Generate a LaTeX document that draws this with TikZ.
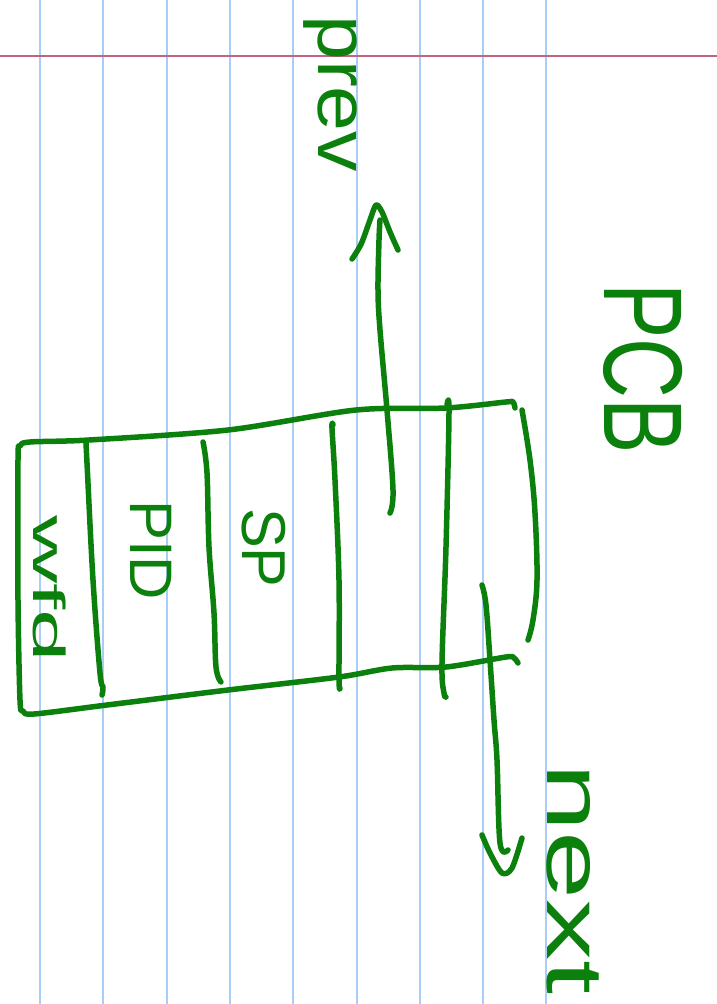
\documentclass[tikz,border=0pt]{standalone}
\usepackage{fontspec}
\usepackage{graphicx}
\newfontfamily\handfont{Liberation Sans}
\definecolor{ink}{RGB}{12,128,12}
\definecolor{ruleblue}{RGB}{168,206,248}
\definecolor{marginpink}{RGB}{196,98,128}
\tikzset{
  pen/.style={draw=ink,line width=5.5pt,line cap=round,line join=round},
  ruleline/.style={draw=ruleblue,line width=2pt},
  marginline/.style={draw=marginpink,line width=2pt},
  handlabel/.style={text=ink,inner sep=0pt,rotate=-90,anchor=base west}
}
\begin{document}
\begin{tikzpicture}[x=1pt,y=-1pt]
\fill[white] (0,0) rectangle (717,1004);
\useasboundingbox (0,0) rectangle (717,1004);
% ruled paper
\foreach \x in {40,103.3,...,550} \draw[ruleline] (\x,0) -- (\x,1004);
\draw[marginline] (0,55.5) -- (717,55.5);

% box outline: top, left and bottom edges
\draw[pen] plot[smooth,tension=0.5] coordinates {(515,408) (513,402) (506,402) (446,408) (356,410) (228,430) (89,440) (30,442) (20,446) (18,460) (18,600) (20,700) (23,711) (34,714) (107,705) (228,690) (339,677) (392,668) (446,667) (506,657) (514,658) (518,663)};
% right edge
\draw[pen] plot[smooth,tension=0.6] coordinates {(522,410) (530,460) (535,513) (537,580) (533,620) (528,640)};
% dividers
\draw[pen] plot[smooth,tension=0.6] coordinates {(86,443) (87,463) (93,580) (100,673) (103,687) (102,695)};
\draw[pen] plot[smooth,tension=0.6] coordinates {(203,442) (207,473) (209,547) (214,613) (216,667) (221,682)};
\draw[pen] plot[smooth,tension=0.6] coordinates {(333,425) (332,428) (335,480) (339,580) (339,677) (340,688)};
\draw[pen] plot[smooth,tension=0.6] coordinates {(447,405) (449,413) (446,547) (442,663) (444,693) (446,697)};

% prev arrow
\coordinate (prevtail) at (390,513);
\coordinate (prevtip) at (376,205);
\draw[pen] plot[smooth,tension=0.6] coordinates {(390,513) (393,490) (387,410) (380,330) (378,290) (379,240) (380,220)};
\draw[pen] plot[smooth,tension=0.5] coordinates {(352,259) (356,253) (362,242) (370,220) (376,205) (382,212) (390,232) (398,250)};

% next arrow
\coordinate (nexttail) at (482,585);
\coordinate (nexttip) at (502,873);
\draw[pen] plot[smooth,tension=0.6] coordinates {(482,585) (486,605) (490,660) (494,720) (497,760) (500,843) (508,850)};
\draw[pen] plot[smooth,tension=0.5] coordinates {(482,835) (490,853) (502,873) (512,868) (522,838)};

% labels
\node[handlabel,font=\handfont\fontsize{72}{72}\selectfont] (prev) at (318,15) {\scalebox{1.12}[1]{prev}};
\node[handlabel,font=\handfont\fontsize{112}{112}\selectfont] (pcb) at (604,283) {\scalebox{0.74}[1]{PCB}};
\node[handlabel,font=\handfont\fontsize{80}{80}\selectfont] (next) at (547,763) {\scalebox{1.53}[1]{next}};
\node[handlabel,font=\handfont\fontsize{60}{60}\selectfont] (pid) at (130,500) {PID};
\node[handlabel,font=\handfont\fontsize{62}{62}\selectfont] (sp) at (242,508) {\scalebox{0.96}[1]{SP}};
\node[handlabel,font=\handfont\fontsize{45}{45}\selectfont] (wfd) at (33,515) {\scalebox{2.1}[1]{wfd}};
\end{tikzpicture}
\end{document}
